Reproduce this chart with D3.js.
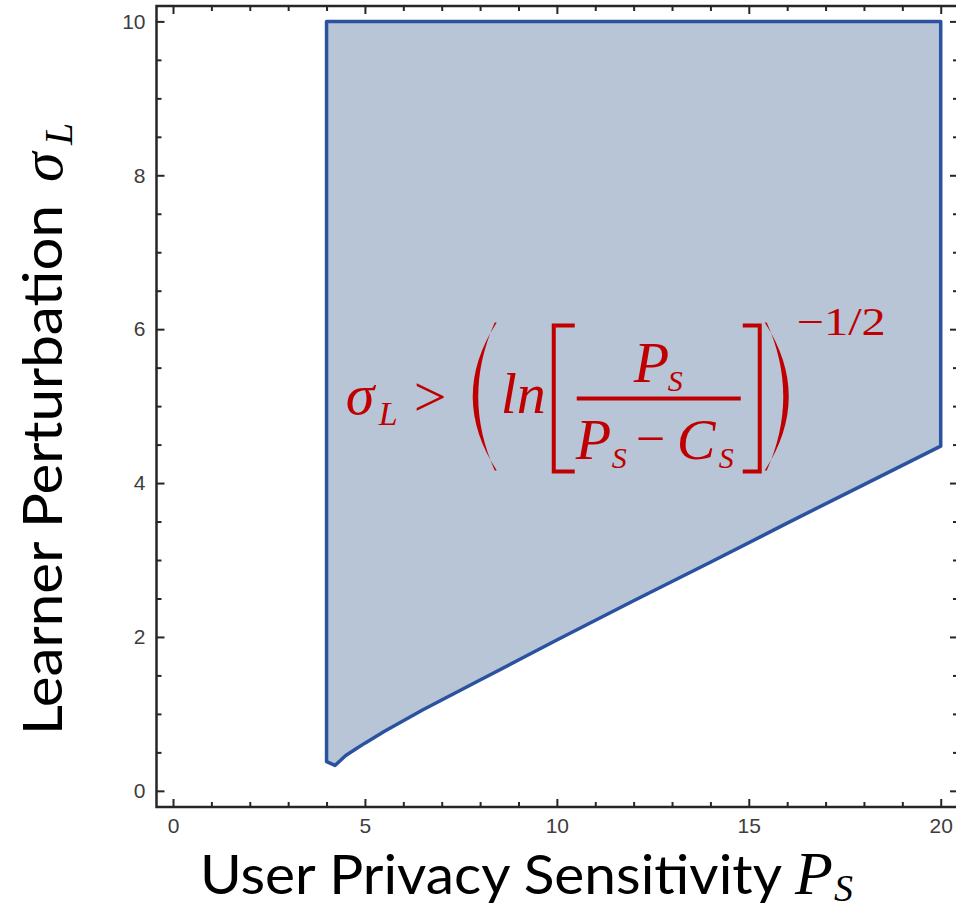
<!DOCTYPE html>
<html>
<head>
<meta charset="utf-8">
<script src="https://cdn.jsdelivr.net/npm/d3@7"></script>
<style>
  html, body { margin: 0; padding: 0; background: #fff; }
  svg { display: block; }
</style>
</head>
<body>
<svg id="chart" width="956" height="910"></svg>
<script>
// Feasible region: sigma_L above the boundary curve, for P_S from 4 to 20, up to sigma_L = 10
const boundaryP     = [4.0, 4.22, 4.5, 4.75, 5, 5.5, 6, 6.5, 7, 7.5, 8, 9, 10, 12, 14, 16, 18, 20];
const boundarySigma = [0.38, 0.33, 0.46, 0.54, 0.62, 0.77, 0.91, 1.05, 1.18, 1.31, 1.44, 1.70, 1.96, 2.47, 2.97, 3.48, 3.98, 4.48];
const regionTop = 10;

const xMajorTicks = [0, 5, 10, 15, 20];
const xMinorTicks = [1, 2, 3, 4, 6, 7, 8, 9, 11, 12, 13, 14, 16, 17, 18, 19];
const yMajorTicks = [0, 2, 4, 6, 8, 10];
const yMinorTicks = [0.5, 1, 1.5, 2.5, 3, 3.5, 4.5, 5, 5.5, 6.5, 7, 7.5, 8.5, 9, 9.5];

const xExtent = [-0.43, 20.45];
const yExtent = [-0.21, 10.2];

const svg = d3.select("#chart");
const x = d3.scaleLinear().domain(xExtent).range([156.5, 958]);
const y = d3.scaleLinear().domain(yExtent).range([807, 6]);

const frameColor = "#262626";
const fillColor = "#b8c5d6";
const edgeColor = "#2b52a0";
const red = "#c00000";

// region polygon: top edge, right edge, then the boundary curve back to the left edge
const outline = [[boundaryP[0], regionTop], [boundaryP[boundaryP.length - 1], regionTop]];
for (let i = boundaryP.length - 1; i >= 0; i--) outline.push([boundaryP[i], boundarySigma[i]]);

svg.append("path")
  .attr("d", d3.line().x(d => x(d[0])).y(d => y(d[1]))(outline) + "Z")
  .attr("fill", fillColor)
  .attr("stroke", edgeColor)
  .attr("stroke-width", 3.5)
  .attr("stroke-linejoin", "round");

// frame
svg.append("rect")
  .attr("x", x(xExtent[0])).attr("y", y(yExtent[1]))
  .attr("width", x(xExtent[1]) - x(xExtent[0]))
  .attr("height", y(yExtent[0]) - y(yExtent[1]))
  .attr("fill", "none").attr("stroke", frameColor).attr("stroke-width", 2.5);

function styleAxis(g) {
  g.select(".domain").remove();
  g.selectAll(".tick line").attr("stroke", frameColor).attr("stroke-width", 2);
  g.selectAll(".tick text")
    .attr("fill", "#3d3d3d")
    .style("font-family", "'Liberation Sans', Arial, sans-serif")
    .style("font-size", "21px");
}

// bottom axis
svg.append("g").attr("transform", `translate(0,${y(yExtent[0])})`)
  .call(d3.axisBottom(x).tickValues(xMajorTicks).tickSize(-8).tickPadding(11).tickFormat(d3.format("d")))
  .call(styleAxis);
svg.append("g").attr("transform", `translate(0,${y(yExtent[0])})`)
  .call(d3.axisBottom(x).tickValues(xMinorTicks).tickSize(-5).tickFormat(""))
  .call(styleAxis);
// top axis
svg.append("g").attr("transform", `translate(0,${y(yExtent[1])})`)
  .call(d3.axisTop(x).tickValues(xMajorTicks).tickSize(-8).tickFormat(""))
  .call(styleAxis);
svg.append("g").attr("transform", `translate(0,${y(yExtent[1])})`)
  .call(d3.axisTop(x).tickValues(xMinorTicks).tickSize(-5).tickFormat(""))
  .call(styleAxis);
// left axis
svg.append("g").attr("transform", `translate(${x(xExtent[0])},0)`)
  .call(d3.axisLeft(y).tickValues(yMajorTicks).tickSize(-8).tickPadding(11).tickFormat(d3.format("d")))
  .call(styleAxis);
svg.append("g").attr("transform", `translate(${x(xExtent[0])},0)`)
  .call(d3.axisLeft(y).tickValues(yMinorTicks).tickSize(-5).tickFormat(""))
  .call(styleAxis);
// right axis
svg.append("g").attr("transform", `translate(${x(xExtent[1])},0)`)
  .call(d3.axisRight(y).tickValues(yMajorTicks).tickSize(-8).tickFormat(""))
  .call(styleAxis);
svg.append("g").attr("transform", `translate(${x(xExtent[1])},0)`)
  .call(d3.axisRight(y).tickValues(yMinorTicks).tickSize(-5).tickFormat(""))
  .call(styleAxis);

// axis titles
const titleFont = "Lato, 'Open Sans', sans-serif";
const mathFont = "'Liberation Serif', 'DejaVu Serif', serif";

// one text element made of absolutely placed runs: [x, y, string, size, italic]
function mathRun(parent, runs, fill) {
  const t = parent.append("text").attr("fill", fill).style("font-family", mathFont);
  runs.forEach(([rx, ry, str, size, italic]) => {
    t.append("tspan").attr("x", rx).attr("y", ry)
      .style("font-size", size + "px")
      .style("font-style", italic ? "italic" : "normal")
      .text(str);
  });
  return t;
}

svg.append("text")
  .attr("x", 200).attr("y", 894)
  .attr("textLength", 582).attr("lengthAdjust", "spacingAndGlyphs")
  .style("font-family", titleFont).style("font-size", "55px").attr("fill", "#000")
  .text("User Privacy Sensitivity");
mathRun(svg, [[795, 894, "P", 62, true], [834, 901, "S", 38, true]], "#000");

const yt = svg.append("g").attr("transform", "translate(62,735) rotate(-90)");
yt.append("text").attr("x", 0).attr("y", 0)
  .attr("textLength", 530).attr("lengthAdjust", "spacingAndGlyphs")
  .style("font-family", titleFont).style("font-size", "55px").attr("fill", "#000")
  .text("Learner Perturbation");
mathRun(yt, [[553, 0, "σ", 60, true], [590, 10, "L", 40, true]], "#000");

// annotation: boundary expression, anchored in data space
const ax = x(4.5), ay = y(5.1);   // math axis of the expression
const f = svg.append("g").attr("transform", `translate(${ax},${ay})`);

mathRun(f, [[0, 16, "σ", 58, true], [33, 27, "L", 34, true], [68, 18, ">", 58, false]], red);

// parentheses
function paren(x0, top, bot, bulge, dir) {
  const mid = (top + bot) / 2;
  const d = `M${x0},${top} Q${x0 - dir * bulge},${mid} ${x0},${bot} ` +
            `L${x0 - dir * 2},${bot} Q${x0 - dir * (bulge - 13)},${mid} ${x0 - dir * 2},${top} Z`;
  f.append("path").attr("d", d).attr("fill", red);
}
paren(151, -76, 72, 48, 1);
paren(419, -76, 72, 48, -1);

mathRun(f, [[155, 15, "ln", 58, true]], red);

// brackets
function bracket(xv, xe, top, bot) {
  f.append("path").attr("d", `M${xe},${top} L${xv},${top} L${xv},${bot} L${xe},${bot}`)
    .attr("fill", "none").attr("stroke", red).attr("stroke-width", 4);
}
bracket(208, 229, -73, 73);
bracket(414, 397, -73, 73);

// fraction
f.append("line").attr("x1", 231).attr("x2", 395).attr("y1", 0).attr("y2", 0)
  .attr("stroke", red).attr("stroke-width", 4);
mathRun(f, [[288, -16, "P", 58, true], [322, -7, "S", 30, true]], red);
mathRun(f, [[230, 61, "P", 58, true], [266, 70, "S", 30, true], [290, 58, "−", 52, false],
            [331, 61, "C", 58, true], [373, 70, "S", 30, true]], red);

mathRun(f, [[451, -63, "−1/2", 40, false]], red)
  .attr("textLength", 89).attr("lengthAdjust", "spacingAndGlyphs");
</script>
</body>
</html>
